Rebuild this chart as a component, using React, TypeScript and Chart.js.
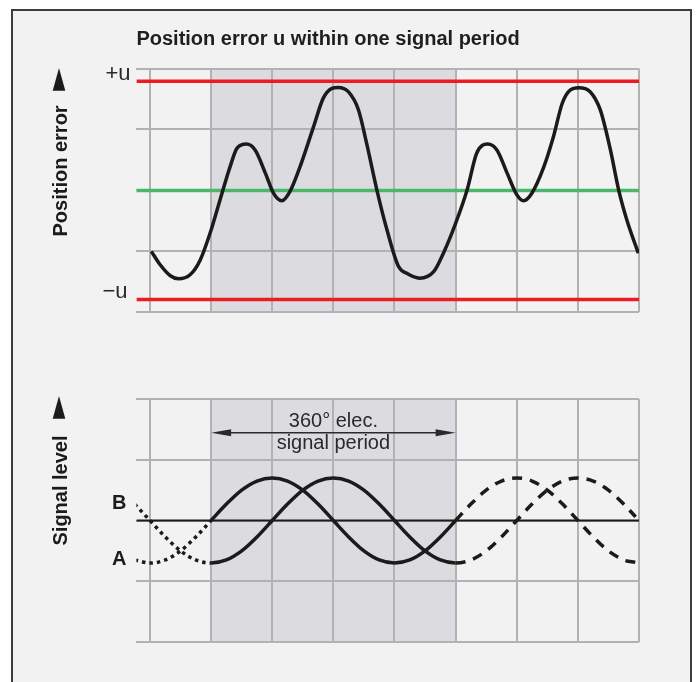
import React, { useEffect, useRef } from "react";
import { Chart, registerables } from "chart.js";

Chart.register(...registerables);

// ---------- data ----------
const PHASE_MIN = -110;
const PHASE_MAX = 630;
const gridPhases = [-90, 0, 90, 180, 270, 360, 450, 540, 630];
const gridLevels = [-2, -1, 0, 1, 2];
const signalPeriod = [0, 360];

const errorLimit = 1.79;
const errorPhase = [
  -88, -75, -60, -48, -31, -16, 0, 13, 28, 38, 52, 65, 80, 92, 104, 116, 131, 151, 165, 178, 187, 202,
  217, 229, 244, 259, 276, 288, 307, 328, 342, 360, 377, 391, 407, 421, 436, 450, 460, 472, 490, 504,
  517, 529, 541, 558, 573, 588, 600, 612, 629,
];
const errorValue = [
  -1.0, -1.22, -1.4, -1.45, -1.385, -1.14, -0.65, -0.16, 0.39, 0.69, 0.76, 0.66, 0.28, -0.05, -0.17,
  -0.02, 0.39, 1.05, 1.51, 1.675, 1.69, 1.62, 1.32, 0.77, 0.01, -0.65, -1.25, -1.36, -1.44, -1.33,
  -1.03, -0.54, 0.01, 0.61, 0.76, 0.66, 0.28, -0.07, -0.17, -0.05, 0.39, 0.88, 1.43, 1.65, 1.685, 1.62,
  1.32, 0.66, 0.01, -0.48, -1.03,
];

const signalPhase = [
  -112.5, -90, -67.5, -45, -22.5, 0, 22.5, 45, 67.5, 90, 112.5, 135, 157.5, 180, 202.5, 225, 247.5, 270,
  292.5, 315, 337.5, 360, 382.5, 405, 427.5, 450, 472.5, 495, 517.5, 540, 562.5, 585, 607.5, 625,
];
const signalA = [
  -0.65, -0.7, -0.65, -0.5, -0.27, 0, 0.27, 0.5, 0.65, 0.7, 0.65, 0.5, 0.27, 0, -0.27, -0.5, -0.65, -0.7,
  -0.65, -0.5, -0.27, 0, 0.27, 0.5, 0.65, 0.7, 0.65, 0.5, 0.27, 0, -0.27, -0.5, -0.65, -0.69,
];
const signalB = [
  0.27, 0, -0.27, -0.5, -0.65, -0.7, -0.65, -0.5, -0.27, 0, 0.27, 0.5, 0.65, 0.7, 0.65, 0.5, 0.27, 0,
  -0.27, -0.5, -0.65, -0.7, -0.65, -0.5, -0.27, 0, 0.27, 0.5, 0.65, 0.7, 0.65, 0.5, 0.27, 0.06,
];

// ---------- styles ----------
const FONT = "'Liberation Sans', Arial, Helvetica, sans-serif";
const GRID = "#b2b2b2";
const SHADE = "#dcdce0";
const RED = "#ed1c24";
const GREEN = "#4cb66a";
const INK = "#1b1b1b";
const TEXT = "#2a2a2a";

function scales() {
  return {
    x: {
      type: "linear" as const,
      min: PHASE_MIN,
      max: PHASE_MAX,
      afterBuildTicks: (s: any) => {
        s.ticks = gridPhases.map((v) => ({ value: v }));
      },
      ticks: { display: false },
      grid: { color: GRID, lineWidth: 2, drawTicks: false },
      border: { display: false },
    },
    y: {
      type: "linear" as const,
      min: gridLevels[0],
      max: gridLevels[gridLevels.length - 1],
      afterBuildTicks: (s: any) => {
        s.ticks = gridLevels.map((v) => ({ value: v }));
      },
      ticks: { display: false },
      grid: { color: GRID, lineWidth: 2, drawTicks: false },
      border: { display: false },
    },
  };
}

const shadePlugin = {
  id: "periodShade",
  beforeDraw(chart: any) {
    const { ctx, chartArea: a, scales: s } = chart;
    const x0 = s.x.getPixelForValue(signalPeriod[0]);
    const x1 = s.x.getPixelForValue(signalPeriod[1]);
    ctx.save();
    ctx.fillStyle = SHADE;
    ctx.fillRect(x0, a.top, x1 - x0, a.bottom - a.top);
    ctx.restore();
  },
};

function upArrow(ctx: CanvasRenderingContext2D, cx: number, top: number) {
  ctx.beginPath();
  ctx.moveTo(cx, top);
  ctx.lineTo(cx + 6.3, top + 22.7);
  ctx.lineTo(cx - 6.3, top + 22.7);
  ctx.closePath();
  ctx.fill();
}

function rotatedLabel(ctx: CanvasRenderingContext2D, text: string, x: number, y: number) {
  ctx.save();
  ctx.translate(x, y);
  ctx.rotate(-Math.PI / 2);
  ctx.font = `bold 20px ${FONT}`;
  ctx.textAlign = "left";
  ctx.textBaseline = "alphabetic";
  ctx.fillText(text, 0, 0);
  ctx.restore();
}

const topLabels = {
  id: "topLabels",
  afterDraw(chart: any) {
    const { ctx, scales: s } = chart;
    ctx.save();
    ctx.fillStyle = TEXT;
    ctx.font = `22px ${FONT}`;
    ctx.textAlign = "right";
    ctx.textBaseline = "alphabetic";
    ctx.fillText("+u", 130.5, s.y.getPixelForValue(errorLimit) - 1);
    ctx.fillText("\u2212u", 127.5, s.y.getPixelForValue(-errorLimit) - 2);
    ctx.fillStyle = INK;
    rotatedLabel(ctx, "Position error", 66.5, 236.5);
    upArrow(ctx, 59, 68);
    ctx.restore();
  },
};

const bottomLabels = {
  id: "bottomLabels",
  afterDraw(chart: any) {
    const { ctx, scales: s } = chart;
    ctx.save();
    ctx.fillStyle = INK;
    rotatedLabel(ctx, "Signal level", 66.5, 205.5);
    upArrow(ctx, 59, 56);
    ctx.font = `bold 20px ${FONT}`;
    ctx.textAlign = "right";
    ctx.textBaseline = "alphabetic";
    ctx.fillText("B", 126.5, 169);
    ctx.fillText("A", 126.5, 225);

    // period arrow
    const x0 = s.x.getPixelForValue(signalPeriod[0]);
    const x1 = s.x.getPixelForValue(signalPeriod[1]);
    const ay = 92.7;
    ctx.strokeStyle = TEXT;
    ctx.fillStyle = TEXT;
    ctx.lineWidth = 1.5;
    ctx.beginPath();
    ctx.moveTo(x0 + 10, ay);
    ctx.lineTo(x1 - 10, ay);
    ctx.stroke();
    ctx.beginPath();
    ctx.moveTo(x0, ay);
    ctx.lineTo(x0 + 20, ay - 3.5);
    ctx.lineTo(x0 + 20, ay + 3.5);
    ctx.closePath();
    ctx.fill();
    ctx.beginPath();
    ctx.moveTo(x1, ay);
    ctx.lineTo(x1 - 20, ay - 3.5);
    ctx.lineTo(x1 - 20, ay + 3.5);
    ctx.closePath();
    ctx.fill();

    const cx = s.x.getPixelForValue((signalPeriod[0] + signalPeriod[1]) / 2);
    ctx.font = `20px ${FONT}`;
    ctx.textAlign = "center";
    ctx.fillText("360\u00b0 elec.", cx, 87);
    ctx.fillText("signal period", cx, 108.5);
    ctx.restore();
  },
};

const pts = (xs: number[], ys: number[]) => xs.map((x, i) => ({ x, y: ys[i] }));
const hline = (v: number) => [
  { x: PHASE_MIN, y: v },
  { x: PHASE_MAX, y: v },
];

const commonOptions = {
  responsive: false,
  maintainAspectRatio: false,
  animation: false as const,
  events: [] as any[],
  elements: { point: { radius: 0 } },
};

function topConfig(): any {
  return {
    type: "line",
    data: {
      datasets: [
        {
          data: pts(errorPhase, errorValue),
          borderColor: INK,
          borderWidth: 3.5,
          cubicInterpolationMode: "monotone",
          pointRadius: 0,
        },
        { data: hline(errorLimit), borderColor: RED, borderWidth: 3.5, pointRadius: 0 },
        { data: hline(-errorLimit), borderColor: RED, borderWidth: 3.5, pointRadius: 0 },
        { data: hline(0), borderColor: GREEN, borderWidth: 3.5, pointRadius: 0 },
      ],
    },
    options: {
      ...commonOptions,
      layout: { padding: { top: 27, left: 136.4, right: 59, bottom: 27.7 } },
      scales: scales(),
      plugins: {
        legend: { display: false },
        tooltip: { enabled: false },
        title: {
          display: true,
          text: "Position error u within one signal period",
          align: "start",
          color: "#1f1f1f",
          font: { family: FONT, size: 20, weight: "bold", lineHeight: 1.2 },
          padding: { top: 0, bottom: 17.5 },
        },
      },
    },
    plugins: [shadePlugin, topLabels],
  };
}

const dashFor = (ctx: any) => {
  const a = ctx.p0.parsed.x;
  const b = ctx.p1.parsed.x;
  if (b <= signalPeriod[0]) return [3.5, 4];
  if (a >= signalPeriod[1]) return [10, 8];
  return [];
};

function bottomConfig(): any {
  const sig = (ys: number[]) => ({
    data: pts(signalPhase, ys),
    borderColor: INK,
    borderWidth: 3.5,
    borderCapStyle: "butt",
    cubicInterpolationMode: "monotone",
    pointRadius: 0,
    segment: { borderDash: dashFor },
  });
  return {
    type: "line",
    data: {
      datasets: [
        sig(signalA),
        sig(signalB),
        { data: hline(0), borderColor: INK, borderWidth: 2, pointRadius: 0 },
      ],
    },
    options: {
      ...commonOptions,
      layout: { padding: { top: 59, left: 136.4, right: 59, bottom: 40 } },
      scales: scales(),
      plugins: { legend: { display: false }, tooltip: { enabled: false } },
    },
    plugins: [shadePlugin, bottomLabels],
  };
}

export default function App() {
  const topRef = useRef<HTMLCanvasElement>(null);
  const botRef = useRef<HTMLCanvasElement>(null);

  useEffect(() => {
    const c1 = new Chart(topRef.current!, topConfig());
    const c2 = new Chart(botRef.current!, bottomConfig());
    return () => {
      c1.destroy();
      c2.destroy();
    };
  }, []);

  return (
    <div
      style={{
        position: "fixed",
        left: 0,
        top: 0,
        width: 698,
        height: 682,
        overflow: "hidden",
        background: "#ffffff",
      }}
    >
      <div
        style={{
          position: "absolute",
          left: 11,
          top: 9,
          width: 681,
          height: 720,
          boxSizing: "border-box",
          border: "2px solid #3c3c3c",
          background: "#f2f2f2",
        }}
      />
      <canvas
        ref={topRef}
        width={698}
        height={340}
        style={{ position: "absolute", left: 0, top: 0, width: 698, height: 340 }}
      />
      <canvas
        ref={botRef}
        width={698}
        height={342}
        style={{ position: "absolute", left: 0, top: 340, width: 698, height: 342 }}
      />
    </div>
  );
}
